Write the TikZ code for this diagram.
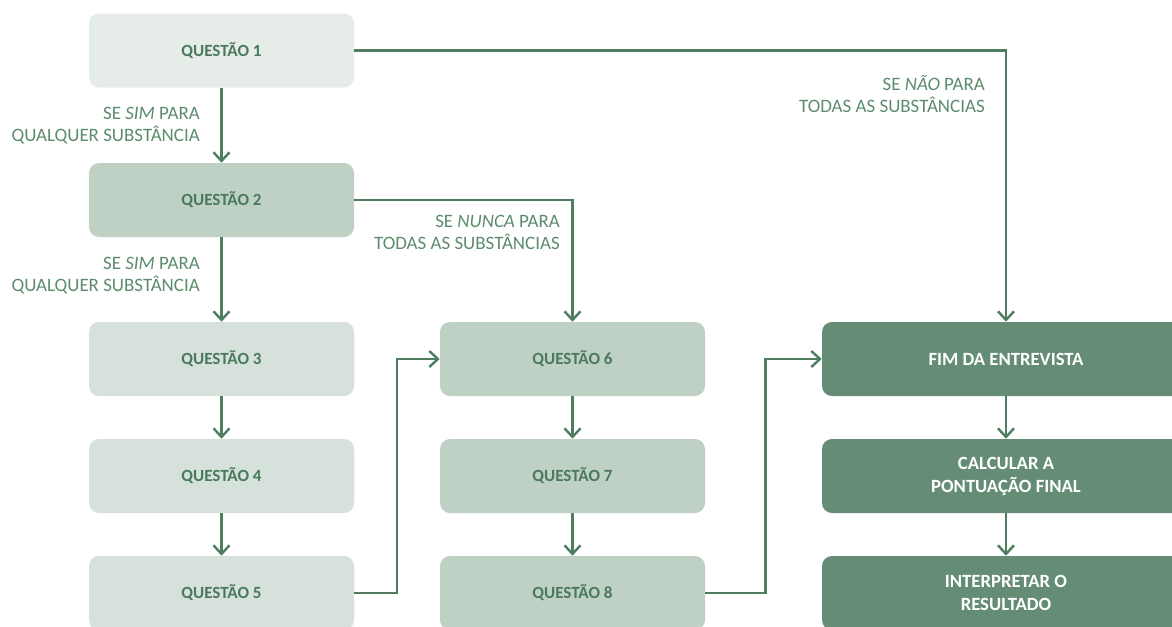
\documentclass[tikz,border=0pt]{standalone}
\usepackage{fontspec}
\setmainfont{Carlito}
\usetikzlibrary{arrows.meta,calc}
\definecolor{linegreen}{HTML}{4E7D60}
\definecolor{txtgreen}{HTML}{4A7A5D}
\definecolor{lblgreen}{HTML}{5C8C6E}
\definecolor{paleA}{HTML}{E6EDE9}
\definecolor{paleB}{HTML}{D5E1DA}
\definecolor{midfill}{HTML}{BFD0C5}
\definecolor{darkfill}{HTML}{658D75}
\tikzset{
  qbox/.style={rounded corners=7.5pt, minimum width=198.75pt, minimum height=55.5pt,
    inner sep=0pt, align=center, text=txtgreen, font=\fontsize{12.8}{15}\selectfont\bfseries},
  endbox/.style={qbox, minimum width=276pt, fill=darkfill, text=white,
    font=\fontsize{14}{17.25}\selectfont\bfseries},
  conn/.style={draw=linegreen, line width=1.8pt, -{Straight Barb[length=6.5pt,width=12pt,line width=1.8pt]}},
  cond/.style={align=right, anchor=east, text=lblgreen, inner sep=0pt,
    font=\fontsize{14.2}{16.5}\selectfont}
}
\begin{document}
\begin{tikzpicture}[x=0.75pt,y=-0.75pt]
\useasboundingbox (0,0) rectangle (1172,626);
\clip (0,0) rectangle (1172,626);
\fill[white] (0,0) rectangle (1172,626);
% first column
\node[qbox, fill=paleA]   (q1) at (221.5,50.5)  {QUESTÃO 1};
\node[qbox, fill=midfill] (q2) at (221.5,200)   {QUESTÃO 2};
\node[qbox, fill=paleB]   (q3) at (221.5,359)   {QUESTÃO 3};
\node[qbox, fill=paleB]   (q4) at (221.5,476)   {QUESTÃO 4};
\node[qbox, fill=paleB]   (q5) at (221.5,593)   {QUESTÃO 5};
% second column
\node[qbox, fill=midfill] (q6) at (572.5,359)   {QUESTÃO 6};
\node[qbox, fill=midfill] (q7) at (572.5,476)   {QUESTÃO 7};
\node[qbox, fill=midfill] (q8) at (572.5,593)   {QUESTÃO 8};
% final steps
\node[endbox] (fim)  at (1006,359) {FIM DA ENTREVISTA};
\node[endbox] (calc) at (1006,476) {CALCULAR A\\PONTUAÇÃO FINAL};
\node[endbox] (interp) at (1006,593) {INTERPRETAR O\\RESULTADO};
% connectors
\draw[conn] (q1.south) -- (q2.north);
\draw[conn] (q2.south) -- (q3.north);
\draw[conn] (q3.south) -- (q4.north);
\draw[conn] (q4.south) -- (q5.north);
\draw[conn] (q6.south) -- (q7.north);
\draw[conn] (q7.south) -- (q8.north);
\draw[conn] (fim.south) -- (calc.north);
\draw[conn] (calc.south) -- (interp.north);
\draw[conn] (q1.east) -| (fim.north);
\draw[conn] (q2.east) -| (q6.north);
\draw[conn] (q5.east) -| ($(q5.east)!0.5!(q6.west)$) |- (q6.west);
\draw[conn] (q8.east) -| ($(q8.east)!0.5!(fim.west)+(2,0)$) |- (fim.west);
% conditions
\node[cond] (c1) at (200,126) {SE \textit{SIM} PARA\\QUALQUER SUBSTÂNCIA};
\node[cond] (c2) at (200,276) {SE \textit{SIM} PARA\\QUALQUER SUBSTÂNCIA};
\node[cond] (c3) at (560,232) {SE \textit{NUNCA} PARA\\TODAS AS SUBSTÂNCIAS};
\node[cond] (c4) at (985,94)  {SE \textit{NÃO} PARA\\TODAS AS SUBSTÂNCIAS};
\end{tikzpicture}
\end{document}
